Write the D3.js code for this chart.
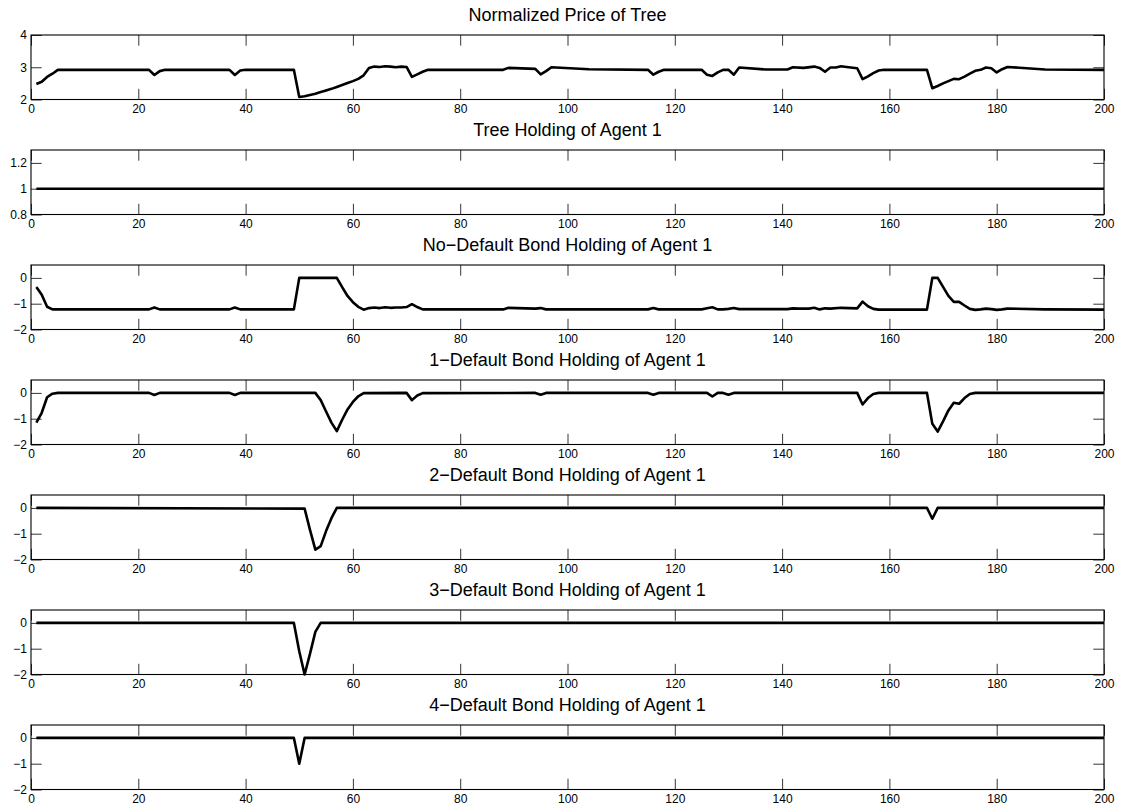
<!DOCTYPE html>
<html><head><meta charset="utf-8">
<script src="https://cdn.jsdelivr.net/npm/d3@7"></script>
<style>body{margin:0;background:#fff}svg{display:block}text{font-family:"Liberation Sans",Arial,Helvetica,sans-serif}</style>
</head><body><svg id="c" width="1123" height="809"></svg>
<script>
// ---- data (breakpoints of each series; x = period, y = value) ----
const titles = ["Normalized Price of Tree","Tree Holding of Agent 1","No\u2212Default Bond Holding of Agent 1","1\u2212Default Bond Holding of Agent 1","2\u2212Default Bond Holding of Agent 1","3\u2212Default Bond Holding of Agent 1","4\u2212Default Bond Holding of Agent 1"];
const xTicks = [0,20,40,60,80,100,120,140,160,180,200];
const yDomains = [[2,4],[0.8,1.3],[-2,0.5],[-2,0.5],[-2,0.5],[-2,0.5],[-2,0.5]];
const yTicks = [[2,3,4],[0.8,1,1.2],[-2,-1,0],[-2,-1,0],[-2,-1,0],[-2,-1,0],[-2,-1,0]];

const priceX = [1,2,3,4,5,22,23,24,25,37,38,39,40,49,50,51,52,53,54,55,56,57,58,59,60,61,62,63,64,65,66,67,68,69,70,71,72,73,74,88,89,94,95,96,97,104,115,116,117,118,125,126,127,128,129,130,131,132,137,141,142,144,146,147,148,149,150,151,152,154,155,156,157,158,159,167,168,169,170,171,172,173,174,175,176,177,178,179,180,181,182,189,200];
const priceY = [2.48,2.55,2.7,2.8,2.92,2.92,2.76,2.88,2.92,2.92,2.76,2.9,2.92,2.92,2.08,2.1,2.14,2.18,2.23,2.28,2.33,2.39,2.45,2.51,2.57,2.64,2.75,2.98,3.02,3.01,3.03,3.02,3.0,3.02,3.01,2.7,2.78,2.86,2.92,2.92,2.98,2.95,2.78,2.88,3.0,2.94,2.92,2.77,2.86,2.92,2.92,2.77,2.73,2.84,2.92,2.92,2.77,2.99,2.93,2.93,3.0,2.98,3.02,2.98,2.86,2.99,2.99,3.03,3.01,2.97,2.63,2.72,2.82,2.9,2.92,2.92,2.35,2.42,2.5,2.57,2.64,2.63,2.71,2.8,2.89,2.92,2.99,2.97,2.84,2.94,3.01,2.93,2.92];

const treeX = [1,200];
const treeY = [1,1];

const noDefX = [1,2,3,4,22,23,24,37,38,39,49,50,57,58,59,60,61,62,63,64,65,66,67,68,69,70,71,72,73,88,89,94,95,96,115,116,117,125,126,127,128,129,130,131,132,141,142,143,145,146,147,148,149,151,154,155,156,157,158,167,168,169,170,171,172,173,174,175,176,177,178,179,180,181,182,189,200];
const noDefY = [-0.35,-0.65,-1.12,-1.22,-1.22,-1.15,-1.22,-1.22,-1.15,-1.22,-1.22,0,0,-0.36,-0.7,-0.94,-1.12,-1.23,-1.17,-1.15,-1.17,-1.14,-1.16,-1.15,-1.15,-1.13,-1.02,-1.13,-1.22,-1.22,-1.16,-1.19,-1.17,-1.22,-1.22,-1.17,-1.22,-1.22,-1.18,-1.14,-1.22,-1.22,-1.2,-1.17,-1.21,-1.21,-1.18,-1.19,-1.19,-1.16,-1.22,-1.18,-1.19,-1.16,-1.18,-0.92,-1.1,-1.2,-1.23,-1.23,0,0,-0.35,-0.7,-0.93,-0.93,-1.07,-1.2,-1.24,-1.22,-1.19,-1.21,-1.24,-1.22,-1.19,-1.22,-1.23];

const def1X = [1,2,3,4,5,22,23,24,37,38,39,53,54,55,56,57,58,59,60,61,62,70,71,72,73,94,95,96,115,116,117,126,127,128,129,130,131,154,155,156,157,158,167,168,169,170,171,172,173,174,175,176,200];
const def1Y = [-1.15,-0.77,-0.17,-0.03,0,0,-0.08,0,0,-0.08,0,0,-0.28,-0.72,-1.15,-1.48,-1.04,-0.64,-0.35,-0.13,-0.01,0,-0.28,-0.1,-0.01,0,-0.07,0,0,-0.07,0,0,-0.14,0,0,-0.07,0,0,-0.45,-0.2,-0.04,0,0,-1.2,-1.5,-1.1,-0.68,-0.38,-0.42,-0.2,-0.04,0,0];

const def2X = [1,51,52,53,54,55,56,57,167,168,169,200];
const def2Y = [0,-0.03,-0.85,-1.62,-1.48,-0.9,-0.4,0,0,-0.42,0,0];

const def3X = [1,49,50,51,52,53,54,200];
const def3Y = [0,0,-1.1,-2.0,-1.2,-0.35,0,0];

const def4X = [1,49,50,51,200];
const def4Y = [0,0,-1,0,0];

const seriesX = [priceX,treeX,noDefX,def1X,def2X,def3X,def4X];
const seriesY = [priceY,treeY,noDefY,def1Y,def2Y,def3Y,def4Y];

// ---- layout ----
const L = 31, R = 1104, top0 = 35, pitch = 115, H = 64.5, tickLen = 10.7;
const svg = d3.select("#c");
const x = d3.scaleLinear().domain([0,200]).range([L,R]);
const fmt = v => (v < 0 ? "\u2212" + Math.abs(v) : String(v));

titles.forEach((t,i) => {
  const top = top0 + i*pitch, bot = top + H;
  const y = d3.scaleLinear().domain(yDomains[i]).range([bot,top]);
  const g = svg.append("g");

  g.append("text").attr("x",(L+R)/2).attr("y",top-14).attr("text-anchor","middle")
    .attr("font-size",18).attr("fill","#000").text(t);

  const xb = d3.axisBottom(x).tickValues(xTicks).tickSize(-tickLen).tickPadding(5).tickFormat(d3.format("d"));
  const gx = g.append("g").attr("transform",`translate(0,${bot})`).call(xb);
  const xt = d3.axisTop(x).tickValues(xTicks).tickSize(-tickLen).tickFormat("");
  const gxt = g.append("g").attr("transform",`translate(0,${top})`).call(xt);
  const yl = d3.axisLeft(y).tickValues(yTicks[i]).tickSize(-tickLen).tickPadding(4).tickFormat(fmt);
  const gy = g.append("g").attr("transform",`translate(${L},0)`).call(yl);
  const yr = d3.axisRight(y).tickValues(yTicks[i]).tickSize(-tickLen).tickFormat("");
  const gyr = g.append("g").attr("transform",`translate(${R},0)`).call(yr);
  [gx,gxt,gy,gyr].forEach(a => {
    a.select(".domain").remove();
    a.selectAll(".tick line").attr("stroke","#000").attr("stroke-width",0.8);
    a.selectAll(".tick text").attr("font-size",12).attr("fill","#000")
      .style("font-family","'Liberation Sans',Arial,Helvetica,sans-serif");
  });

  const pts = seriesX[i].map((xv,k) => [xv, seriesY[i][k]]);
  g.append("path").datum(pts)
    .attr("d", d3.line().x(d => x(d[0])).y(d => y(d[1])))
    .attr("fill","none").attr("stroke","#000").attr("stroke-width",2.6)
    .attr("stroke-linejoin","round").attr("stroke-linecap","butt");

  g.append("rect").attr("x",L).attr("y",top).attr("width",R-L).attr("height",H)
    .attr("fill","none").attr("stroke","#000").attr("stroke-width",1.1);
});
</script></body></html>
